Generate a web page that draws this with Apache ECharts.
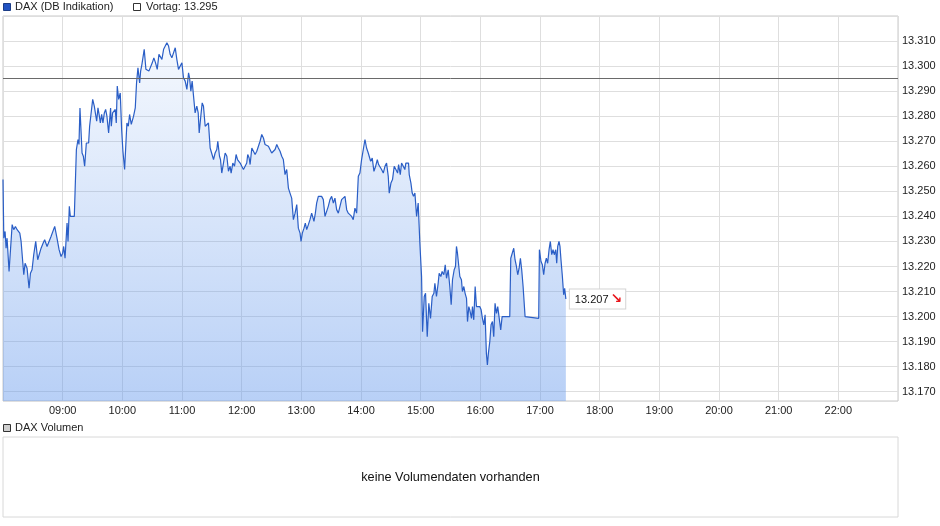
<!DOCTYPE html>
<html><head><meta charset="utf-8">
<script src="https://cdn.jsdelivr.net/npm/echarts@6/dist/echarts.min.js"></script>
<style>html,body{margin:0;padding:0;background:#fff}#c{width:940px;height:526px}</style>
</head><body><div id="c"></div>
<script>
// minutes after 08:00
const minutes = [
0, 0.8, 2.1, 3.1, 4.1, 6.1, 9.2, 10.8, 12.5, 14.2,
15.8, 16.9, 18.2, 20.9, 22.2, 24.2, 26.2, 27.6, 29.2, 30.9,
32.9, 34.9, 36.9, 38.3, 40.3, 41.9, 44.3, 46.3, 48.3, 50.3,
52.0, 54.3, 56.4, 58.4, 60.0, 61.0, 62.4, 64.4, 65.4, 66.7,
67.7, 71.7, 73.8, 75.4, 76.4, 77.4, 79.5, 80.8, 82.1, 83.8,
86.1, 87.1, 88.8, 90.2, 91.8, 94.2, 95.5, 96.9, 97.9, 99.2,
100.5, 101.9, 103.2, 104.5, 106.2, 108.2, 108.9, 110.2, 111.6, 112.9,
113.9, 114.9, 116.3, 117.9, 119.3, 120.6, 122.3, 124.6, 126.0, 127.3,
129.0, 131.3, 133.0, 134.3, 135.7, 137.4, 138.4, 139.7, 142.0, 143.7,
145.0, 146.7, 148.4, 150.1, 151.7, 153.4, 155.1, 156.8,
158.1, 159.8, 161.5, 163.1, 164.8, 166.5, 168.1, 169.8, 171.5, 173.2,
174.8, 176.5, 178.2, 179.9, 181.5, 183.2, 184.9, 186.6, 187.6, 188.9,
190.2, 191.6, 193.2, 194.9, 196.3, 197.3, 198.9, 200.3, 201.6, 203.3,
205.0, 206.6, 208.3, 210.0, 211.7, 213.3, 215.0, 216.0, 217.7, 218.7,
220.0, 221.7, 223.4, 225.1, 226.7, 228.4, 229.4, 231.1, 232.8, 234.4,
235.8, 237.5, 238.5, 240.1, 241.8, 243.5, 245.1, 246.1, 247.5, 248.5,
250.2, 251.8, 253.5, 255.2, 256.9, 258.5, 260.2, 261.9, 263.5, 265.2,
266.9, 268.6, 270.2, 271.9, 273.6, 275.3, 276.9, 278.6, 280.3, 281.9,
283.6, 285.3, 287.0, 288.6, 290.3, 291.0, 292.0, 293.7, 295.4, 297.0,
298.7, 299.7, 301.0, 302.7, 304.0, 305.4, 307.1, 308.7, 310.4, 311.4,
312.7, 314.1, 315.4, 317.1, 318.8, 320.4, 322.1, 323.8, 325.5, 327.1,
328.8, 330.5, 332.2, 333.8, 335.5, 337.2, 338.9, 340.5, 342.2, 343.9,
345.6, 347.2, 348.9, 350.6, 352.2, 353.9, 355.6, 357.3, 358.9, 360.6,
362.3, 364.0, 365.6, 367.3, 368.3, 369.7, 371.3, 373.0, 374.7, 376.4,
377.7, 379.0, 380.7, 382.4, 384.1, 385.7, 387.4, 388.4, 390.1, 391.7,
393.4, 395.1, 396.8, 397.8, 399.5, 400.8, 402.5, 404.1, 405.1, 406.5,
407.8, 408.5, 410.2, 411.5, 412.8, 414.2, 415.9, 417.5, 419.2, 420.9,
421.9, 423.6, 424.9, 426.6, 428.2, 429.9, 431.6, 433.3, 434.3, 435.9,
437.6, 438.6, 440.3, 441.6, 443.3, 444.7, 446.0, 447.7, 449.3, 450.7,
452.0, 453.7, 455.0, 456.0, 457.0, 458.4, 459.4, 461.0, 462.0, 463.4,
464.7, 466.1, 467.1, 468.4, 469.4, 471.1, 472.1, 473.4, 474.8, 476.1,
479.4, 480.8, 482.1, 483.5, 484.8, 486.1, 487.1, 488.1, 489.5, 490.8,
492.2, 493.5, 494.8, 496.2, 497.5, 498.9, 500.5, 501.9, 503.5, 509.6,
510.6, 511.9, 513.6, 514.9, 516.3, 517.6, 519.0, 520.3, 521.6, 523.0,
525.0, 526.3, 538.7, 539.4, 541.0, 542.4, 543.7, 545.1, 546.4, 547.7,
549.1, 550.4, 551.8, 553.1, 554.4, 555.8, 556.8, 557.8, 559.1, 560.1,
561.1, 562.5, 563.8, 564.8, 566.0
];
const values = [
13254.7, 13231.3, 13234.0, 13227.3, 13231.3, 13218.0, 13236.7, 13234.7, 13236.0, 13234.7,
13235.3, 13233.3, 13230.0, 13216.7, 13221.3, 13219.3, 13211.3, 13217.3, 13218.7, 13224.7,
13230.0, 13222.7, 13223.3, 13227.3, 13229.3, 13230.7, 13228.0, 13227.3, 13232.0, 13231.3,
13236.0, 13231.3, 13226.7, 13224.0, 13225.3, 13228.0, 13223.3, 13237.3, 13230.0, 13244.0,
13240.0, 13240.0, 13266.7, 13270.7, 13268.7, 13283.3, 13265.3, 13264.0, 13260.0, 13269.3,
13269.3, 13276.0, 13276.0, 13286.7, 13284.0, 13278.0, 13283.3, 13280.0, 13277.3, 13280.7,
13277.3, 13281.3, 13282.7, 13280.0, 13273.3, 13283.3, 13276.0, 13281.3, 13280.7, 13282.7,
13277.3, 13292.0, 13286.7, 13289.3, 13274.7, 13266.0, 13258.7, 13277.3, 13276.0, 13280.7,
13276.7, 13280.0, 13283.3, 13293.3, 13299.3, 13293.3, 13298.0, 13300.7, 13306.7, 13298.7,
13299.3, 13298.0, 13298.7, 13301.3, 13303.3, 13301.3, 13298.7, 13304.7,
13305.3, 13302.7, 13306.7, 13307.3, 13309.3, 13308.0, 13304.7, 13303.3, 13304.0, 13307.3,
13302.7, 13298.7, 13299.3, 13301.3, 13295.3, 13294.0, 13290.7, 13297.3, 13295.3, 13290.0,
13294.0, 13288.0, 13281.3, 13284.0, 13281.3, 13273.3, 13280.0, 13285.3, 13284.0, 13276.0,
13276.7, 13277.3, 13267.3, 13267.3, 13262.7, 13265.3, 13266.7, 13270.0, 13264.0, 13262.7,
13257.3, 13261.3, 13265.3, 13264.0, 13258.0, 13260.0, 13257.3, 13261.3, 13260.0, 13264.7,
13262.7, 13263.3, 13261.3, 13260.0, 13258.7, 13258.0, 13261.3, 13264.7, 13263.3, 13260.7,
13267.3, 13266.7, 13264.7, 13266.0, 13266.0, 13270.0, 13272.7, 13271.3, 13268.7, 13269.3,
13268.0, 13268.7, 13265.3, 13265.3, 13266.7, 13268.7, 13267.3, 13266.0, 13264.0, 13262.7,
13256.7, 13258.7, 13251.3, 13249.3, 13247.3, 13246.7, 13238.7, 13241.3, 13244.7, 13235.3,
13233.3, 13230.0, 13233.3, 13235.3, 13237.3, 13234.7, 13236.7, 13238.7, 13241.3, 13242.0,
13238.0, 13241.3, 13245.3, 13248.0, 13247.3, 13248.0, 13246.7, 13240.0, 13240.0, 13244.0,
13246.7, 13248.0, 13245.3, 13247.3, 13242.7, 13241.3, 13241.3, 13246.7, 13246.0, 13248.0,
13242.7, 13241.3, 13241.3, 13240.0, 13238.7, 13243.3, 13241.3, 13256.0, 13257.3, 13262.7,
13266.7, 13270.7, 13267.3, 13265.3, 13266.0, 13262.0, 13263.3, 13258.0, 13260.0, 13262.7,
13260.7, 13261.3, 13258.7, 13257.3, 13260.0, 13261.3, 13256.0, 13249.3, 13253.3, 13254.7,
13260.0, 13258.7, 13257.3, 13260.7, 13256.7, 13261.3, 13260.0, 13258.7, 13261.3, 13260.7,
13261.3, 13256.7, 13253.3, 13249.3, 13248.0, 13249.3, 13240.0, 13245.3, 13229.3, 13216.0,
13194.0, 13208.0, 13209.3, 13192.0, 13205.3, 13199.3, 13208.0, 13209.3, 13213.3, 13208.0,
13213.3, 13217.3, 13216.0, 13218.0, 13216.7, 13220.7, 13215.3, 13218.7, 13212.0, 13204.7,
13214.7, 13218.7, 13220.0, 13228.0, 13225.3, 13225.3, 13216.0, 13214.7, 13210.0, 13212.0,
13209.3, 13207.3, 13198.0, 13204.0, 13202.7, 13199.3, 13204.0, 13198.7, 13212.0, 13204.0,
13204.0, 13202.7, 13199.3, 13196.7, 13200.7, 13185.3, 13180.7, 13185.3, 13190.0, 13196.7,
13198.0, 13192.0, 13205.3, 13201.3, 13204.0, 13204.0, 13194.7, 13200.0, 13200.0, 13200.0,
13223.3, 13224.0, 13227.3, 13222.7, 13220.0, 13216.7, 13219.3, 13223.3, 13218.7, 13212.0,
13200.0, 13199.3, 13199.3, 13226.7, 13222.0, 13220.7, 13216.7, 13221.3, 13223.3, 13221.3,
13226.7, 13230.0, 13224.7, 13226.7, 13224.7, 13226.7, 13221.3, 13228.0, 13230.0, 13228.0,
13222.7, 13216.0, 13208.7, 13211.3, 13207.0
];
const prevClose = 13295;
const lastValue = 13207;
const seriesName = 'DAX (DB Indikation)';
const prevLabel = 'Vortag: ';
const volumeName = 'DAX Volumen';
const noVolumeText = 'keine Volumendaten vorhanden';
const startHour = 8;

const n = Math.min(minutes.length, values.length);
const data = [];
for (let i = 0; i < n; i++) data.push([minutes[i], values[i]]);

const FONT = '"Liberation Sans", Arial, Helvetica, sans-serif';
const fmtDE = v => (v / 1000).toFixed(3);
const chart = echarts.init(document.getElementById('c'), null, {renderer: 'canvas'});
chart.setOption({
  animation: false,
  backgroundColor: '#fff',
  textStyle: {fontFamily: FONT},
  grid: [
    {left: 3, right: 42, top: 16, bottom: 125, show: true, borderColor: '#c8c8c8', borderWidth: 1, outerBoundsMode: 'none', containLabel: false},
    {left: 3, right: 42, top: 437, height: 80, show: true, borderColor: '#d8d8d8', borderWidth: 1, outerBoundsMode: 'none', containLabel: false}
  ],
  xAxis: [
    {type: 'value', gridIndex: 0, min: 0, max: 900, interval: 60,
     axisLine: {show: false}, axisTick: {show: false},
     splitLine: {show: true, lineStyle: {color: '#dedede', width: 1}},
     axisLabel: {formatter: v => String(startHour + v / 60).padStart(2, '0') + ':00', showMinLabel: false, showMaxLabel: false,
                 color: '#222', fontSize: 11, margin: 4, fontFamily: FONT}},
    {type: 'value', gridIndex: 1, show: false, min: 0, max: 1}
  ],
  yAxis: [
    {type: 'value', gridIndex: 0, position: 'right', min: 13166.3, max: 13320, splitNumber: 15, minInterval: 10, maxInterval: 10,
     axisLine: {show: false}, axisTick: {show: false},
     splitLine: {show: true, lineStyle: {color: '#dedede', width: 1}},
     axisLabel: {formatter: fmtDE, showMinLabel: false, showMaxLabel: false, color: '#222', fontSize: 11, margin: 4, fontFamily: FONT}},
    {type: 'value', gridIndex: 1, show: false, min: 0, max: 1}
  ],
  series: [{
    type: 'line', name: seriesName, xAxisIndex: 0, yAxisIndex: 0, data: data,
    showSymbol: false, symbol: 'none',
    lineStyle: {color: '#2a5ec6', width: 1.2},
    areaStyle: {opacity: 1, color: new echarts.graphic.LinearGradient(0, 0, 0, 1, [
      {offset: 0, color: 'rgba(106,157,237,0.07)'},
      {offset: 1, color: 'rgba(100,152,236,0.46)'}
    ])},
    endLabel: {
      show: true, distance: 4,
      formatter: () => '{v|' + fmtDE(lastValue) + '}{a|↘}',
      backgroundColor: '#fff', borderColor: '#d4d4d4', borderWidth: 1, padding: [3, 3, 2, 5],
      rich: {
        v: {fontSize: 11, color: '#111', fontFamily: FONT},
        a: {fontSize: 14, color: '#e8141b', fontWeight: 'bold', fontFamily: '"DejaVu Sans", sans-serif', padding: [0, 0, 0, 2]}
      }
    },
    markLine: {
      silent: true, symbol: 'none', label: {show: false},
      lineStyle: {color: '#6a6a6a', width: 1, type: 'solid'},
      data: [{yAxis: prevClose}]
    }
  }],
  graphic: [
    {type: 'rect', shape: {x: 3.5, y: 3.5, width: 7, height: 7}, style: {fill: '#2152c2', stroke: '#1b3c86', lineWidth: 1}},
    {type: 'text', x: 15, y: 7, style: {text: seriesName, fill: '#222', font: '11px ' + FONT, textVerticalAlign: 'middle'}},
    {type: 'rect', shape: {x: 133.5, y: 3.5, width: 7, height: 7}, style: {fill: '#fff', stroke: '#333', lineWidth: 1}},
    {type: 'text', x: 146, y: 7, style: {text: prevLabel + fmtDE(prevClose), fill: '#222', font: '11px ' + FONT, textVerticalAlign: 'middle'}},
    {type: 'rect', shape: {x: 3.5, y: 424.5, width: 7, height: 7}, style: {fill: '#cfcfcf', stroke: '#333', lineWidth: 1}},
    {type: 'text', x: 15, y: 428, style: {text: volumeName, fill: '#222', font: '11px ' + FONT, textVerticalAlign: 'middle'}},
    {type: 'text', x: 450.5, y: 477.5, style: {text: noVolumeText, fill: '#111', font: '12.7px ' + FONT, textAlign: 'center', textVerticalAlign: 'middle'}}
  ]
});
</script>
</body></html>
